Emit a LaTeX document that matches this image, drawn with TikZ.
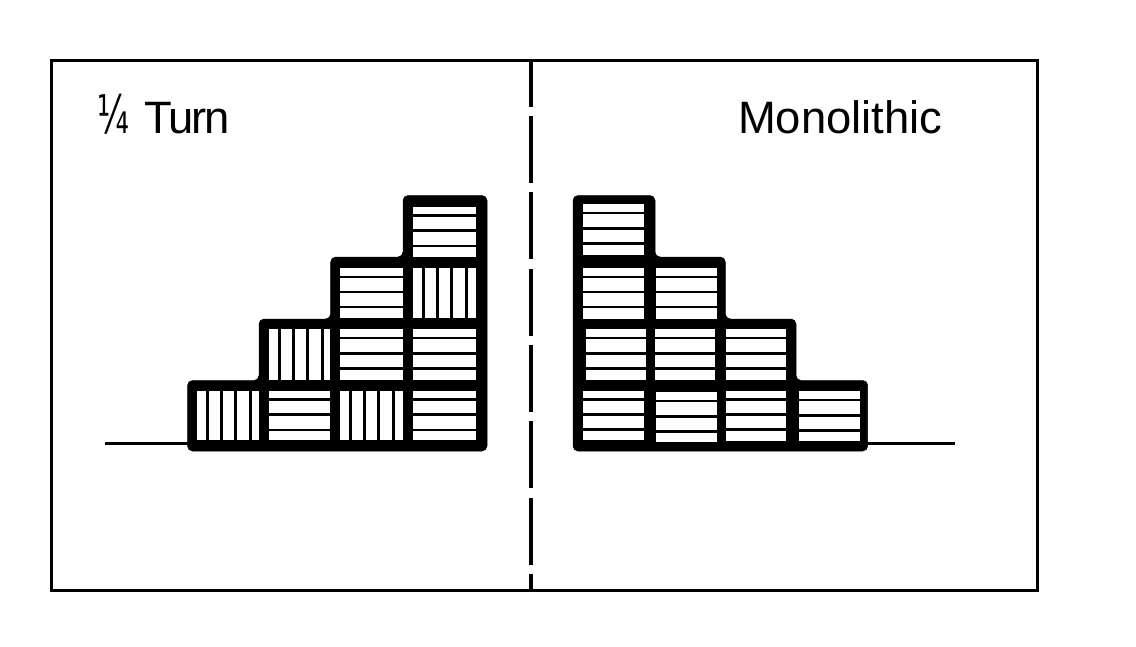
\documentclass[tikz,border=0pt]{standalone}
\usepackage{fontspec}
\setmainfont{Liberation Sans}
\newfontfamily\fracfont{DejaVu Sans}
\tikzset{
  x=1pt,y=-1pt,
  frameline/.style={draw=black,line width=3pt,outer sep=0pt},
  groundline/.style={draw=black,line width=2.8pt},
  divider/.style={draw=black,line width=3.6pt,dash pattern=on 67pt off 9.3pt,dash phase=20.3pt},
  stackshape/.style={fill=black,draw=black,line width=0.5pt,rounded corners=5pt},
  slat/.style={draw=black,line width=2.5pt},
  vslat/.style={draw=black,line width=3pt},
  caption/.style={anchor=base west,inner sep=0pt,outer sep=0pt,font=\fontsize{45.4}{45.4}\selectfont,text=black}
}
% x1 y1 x2 y2
\newcommand{\hcell}[4]{%
  \fill[white] (#1,#2) rectangle (#3,#4);
  \foreach \d in {8.8,24,39.2}{\draw[slat] (#1,#2+\d) -- (#3,#2+\d);}
}
\newcommand{\vcell}[4]{%
  \fill[white] (#1,#2) rectangle (#3,#4);
  \foreach \d in {9.8,24.2,38.5,52.8}{\draw[vslat] (#1+\d,#2) -- (#1+\d,#4);}
}
\begin{document}
\begin{tikzpicture}
\useasboundingbox (0,0) rectangle (1136,646);
\fill[white] (0,0) rectangle (1136,646);
\node[frameline,minimum width=986pt,minimum height=530pt,inner sep=0pt,anchor=north west] (frame) at (51,60) {};
\coordinate (divtop) at (531,60);
\coordinate (divbot) at (531,590);
\draw[divider] (divtop) -- (divbot);
\coordinate (gl) at (105,443.7);
\coordinate (gle) at (190,443.7);
\coordinate (gr) at (955,443.7);
\coordinate (gre) at (865,443.7);
\draw[groundline] (gl) -- (gle);
\draw[groundline] (gre) -- (gr);
\node[caption,font=\fontsize{53}{53}\selectfont\fracfont,xscale=0.62,transform shape] (quarter) at (97,133) {¼};
\node[caption] (turn) at (144,133) {\addfontfeature{LetterSpace=-4}Turn};
\node[caption] (mono) at (738,133) {Monolithic};
% left stack
\fill[stackshape] (187.5,451) -- (187.5,380.5) -- (259,380.5) -- (259,319) -- (330.7,319) -- (330.7,257) -- (403,257) -- (403,195.5) -- (487,195.5) -- (487,451) -- cycle;
\hcell{413.3}{206.7}{476.3}{256.7}
\hcell{340.3}{268}{402.7}{318.3}
\vcell{413.3}{268}{476.3}{318.3}
\vcell{269.3}{329.3}{330}{379.7}
\hcell{340.3}{329.3}{402.7}{379.7}
\hcell{413.3}{329.3}{476.3}{379.7}
\vcell{197.3}{390.7}{259}{440}
\hcell{269.3}{390.7}{330}{440}
\vcell{340.3}{390.7}{402.7}{440}
\hcell{413.3}{390.7}{476.3}{440}
% right stack
\fill[stackshape] (573,451) -- (573,195.5) -- (655,195.5) -- (655,257) -- (725.3,257) -- (725.3,319) -- (796,319) -- (796,380.5) -- (867.7,380.5) -- (867.7,451) -- cycle;
\hcell{582.7}{204.3}{643.7}{255}
\hcell{583.3}{268}{644}{318.5}
\hcell{656}{268}{716.7}{318.5}
\hcell{585.7}{329.3}{645.7}{380}
\hcell{655}{329.3}{714.7}{380}
\hcell{725.7}{329.3}{785.7}{380}
\hcell{583.3}{390.5}{644}{440}
\hcell{656}{392.3}{716.7}{441.7}
\hcell{725.7}{390.5}{785.7}{440.7}
\hcell{799.3}{391.3}{859.7}{441}
\end{tikzpicture}
\end{document}
